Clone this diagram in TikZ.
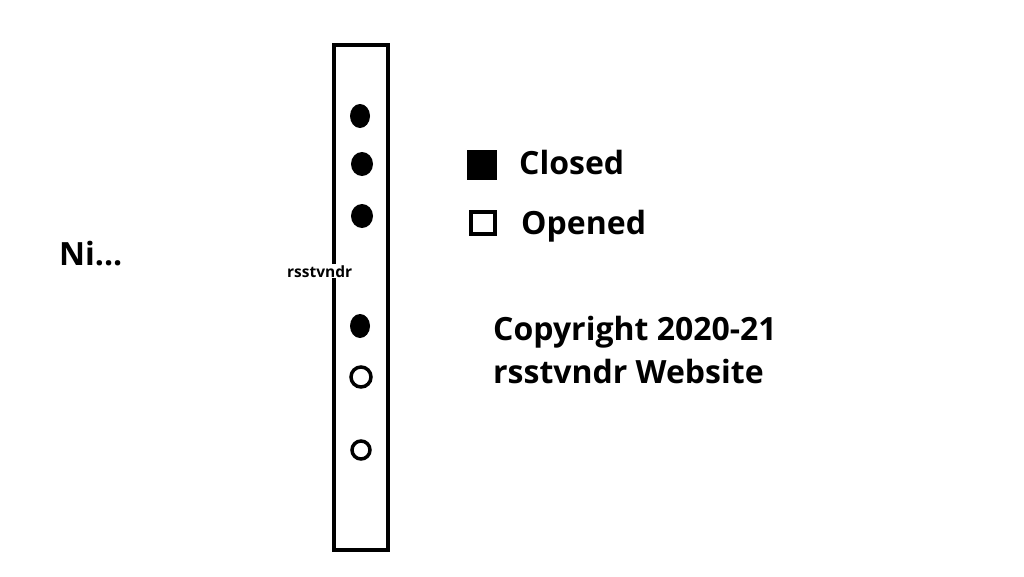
\documentclass[tikz,border=0pt]{standalone}
\usepackage{fontspec}
\setmainfont{Open Sans}
\begin{document}
\begin{tikzpicture}[x=1pt,y=-1pt,
  big/.style={font=\fontsize{32}{43}\selectfont\bfseries, inner sep=0pt, anchor=base west},
  dotfill/.style={fill=black, draw=none},
  dotopen/.style={draw=black, line width=3.5pt, fill=white},
]
\useasboundingbox (0,0) rectangle (1024,576);
\draw[line width=4pt] (334,45) rectangle (388,550);
\node[font=\fontsize{15.5}{17}\selectfont\bfseries, fill=white, inner sep=1pt, anchor=base west] (lbl) at (286,277) {rsstvndr};
\fill[dotfill] (360,116) ellipse [x radius=10, y radius=12];
\fill[dotfill] (362,164) ellipse [x radius=11, y radius=12];
\fill[dotfill] (362,216) ellipse [x radius=11, y radius=12];
\fill[dotfill] (360,326) ellipse [x radius=10, y radius=12];
\draw[dotopen] (361,377) circle [radius=10];
\draw[dotopen] (361,450) circle [radius=9];
\fill (467,150) rectangle (497,180);
\draw[line width=4pt] (471,212) rectangle (495,234);
\node[big] (closed) at (519,174) {Closed};
\node[big] (opened) at (521,234) {Opened};
\node[big] (copy1) at (493,340) {Copyright 2020-21};
\node[big] (copy2) at (493,383) {rsstvndr Website};
\node[big] (ni) at (59,265) {Ni...};
\end{tikzpicture}
\end{document}
